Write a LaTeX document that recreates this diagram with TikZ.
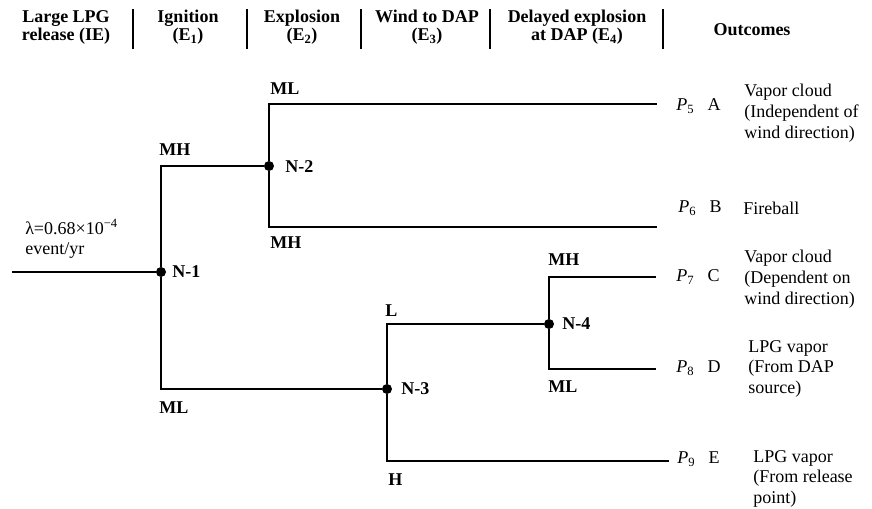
\documentclass[tikz,border=0pt]{standalone}
\usepackage{fontspec}
\setmainfont{Liberation Serif}
\usetikzlibrary{backgrounds}

\begin{document}
\begin{tikzpicture}[x=0.75pt, y=-0.75pt,
		branch/.style={line width=1.5pt},
		sep/.style={line width=2pt},
		dot/.style={circle, fill, inner sep=0pt, minimum size=7.5pt},
		head/.style={align=center, inner sep=0pt, font=\fontsize{13.5}{13.5}\selectfont\bfseries},
		lbl/.style={anchor=west, inner sep=0pt, font=\fontsize{13.5}{13.5}\selectfont\bfseries},
		prob/.style={anchor=west, inner sep=0pt, font=\fontsize{13.5}{13.5}\selectfont},
		outc/.style={anchor=north west, align=left, inner sep=0pt, font=\fontsize{13.5}{15.5}\selectfont}]
			\useasboundingbox (0,0) rectangle (872,508);
			% column headings
			\node[head] at (66, 27) (hie) {Large LPG\\release (IE)};
			\node[head] at (188, 27) (he1) {Ignition\\(E\textsubscript{1})};
			\node[head] at (302, 27) (he2) {Explosion\\(E\textsubscript{2})};
			\node[head] at (427, 27) (he3) {Wind to DAP\\(E\textsubscript{3})};
			\node[head] at (577, 27) (he4) {Delayed explosion\\at DAP (E\textsubscript{4})};
			\node[head] at (752, 30) (hout) {Outcomes};
			\draw[sep] (133, 9) -- (133, 49);
			\draw[sep] (247, 9) -- (247, 49);
			\draw[sep] (361, 9) -- (361, 49);
			\draw[sep] (490, 9) -- (490, 49);
			\draw[sep] (663, 9) -- (663, 49);
			% initiating event
			\node[prob, align=left, font=\fontsize{13.5}{15}\selectfont] at (25, 239) (lambda) {λ=0.68×10\textsuperscript{−4}\\event/yr};
			\coordinate (src) at (12, 272);
			% branch points
			\node[dot] at (161, 272) (n1) {};
			\node[dot] at (269, 166) (n2) {};
			\node[dot] at (387, 389) (n3) {};
			\node[dot] at (549, 324) (n4) {};
			\node[lbl] at (172, 272) (n1lbl) {N-1};
			\node[lbl] at (285, 167) (n2lbl) {N-2};
			\node[lbl] at (401, 389) (n3lbl) {N-3};
			\node[lbl] at (562, 324) (n4lbl) {N-4};
			% free ends of the sequences
			\coordinate (endA) at (657, 104);
			\coordinate (endB) at (657, 227);
			\coordinate (endC) at (656, 277);
			\coordinate (endD) at (656, 369);
			\coordinate (endE) at (669, 461);
			\begin{scope}[on background layer]
				\draw[branch] (src) -- (n1);
				\draw[branch] (n1) |- (n2);
				\draw[branch] (n1) |- (n3);
				\draw[branch] (n2) |- (endA);
				\draw[branch] (n2) |- (endB);
				\draw[branch] (n3) |- (n4);
				\draw[branch] (n3) |- (endE);
				\draw[branch] (n4) |- (endC);
				\draw[branch] (n4) |- (endD);
			\end{scope}
			% branch labels
			\node[lbl] at (159, 150) (l1) {MH};
			\node[lbl] at (159, 408) (l2) {ML};
			\node[lbl] at (270, 89) (l3) {ML};
			\node[lbl] at (270, 243) (l4) {MH};
			\node[lbl] at (385, 311) (l5) {L};
			\node[lbl] at (388, 480) (l6) {H};
			\node[lbl] at (548, 260) (l7) {MH};
			\node[lbl] at (548, 387) (l8) {ML};
			% outcomes
			\node[prob] at (676, 106) (pA) {\textit{P}\textsubscript{5}\hspace{0.75em}A};
			\node[prob] at (678, 208) (pB) {\textit{P}\textsubscript{6}\hspace{0.75em}B};
			\node[prob] at (676, 277) (pC) {\textit{P}\textsubscript{7}\hspace{0.75em}C};
			\node[prob] at (676, 368) (pD) {\textit{P}\textsubscript{8}\hspace{0.75em}D};
			\node[prob] at (677, 459) (pE) {\textit{P}\textsubscript{9}\hspace{0.75em}E};
			\node[outc] at (744, 84) (oA) {Vapor cloud\\(Independent of\\wind direction)};
			\node[prob] at (743, 208) (oB) {Fireball};
			\node[outc] at (744, 250) (oC) {Vapor cloud\\(Dependent on\\wind direction)};
			\node[outc] at (748, 340) (oD) {LPG vapor\\(From DAP\\source)};
			\node[outc] at (753, 450) (oE) {LPG vapor\\(From release\\point)};
		\end{tikzpicture}
\end{document}
